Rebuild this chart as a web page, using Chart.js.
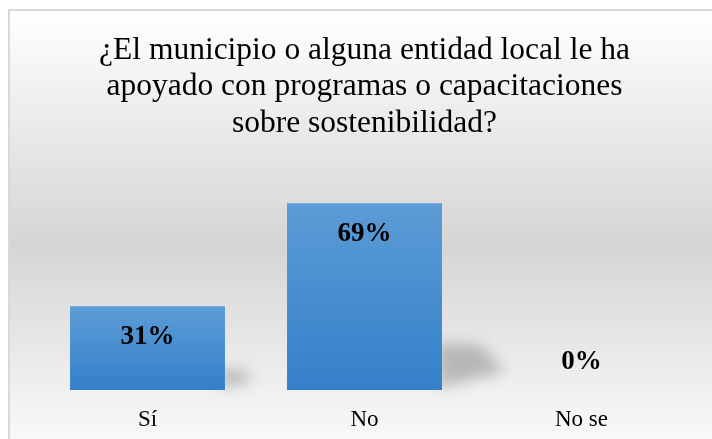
<!DOCTYPE html>
<html>
<head>
<meta charset="utf-8">
<script src="https://cdn.jsdelivr.net/npm/chart.js@4.4.1/dist/chart.umd.min.js"></script>
<style>
  html, body { margin: 0; padding: 0; overflow: hidden; background: #fff; }
  #box {
    position: absolute; left: 8px; top: 9px; width: 720px; height: 440px;
    border-left: 2px solid #d9d9d9; border-top: 2px solid #d9d9d9;
    background: linear-gradient(to bottom, #ffffff 0%, #d5d5d5 53%, #fbfbfb 100%);
  }
  #wrap { position: absolute; left: 0; top: 0; width: 712px; height: 439px; }
</style>
</head>
<body>
<div id="box"></div>
<div id="wrap"><canvas id="chart"></canvas></div>
<script>
const categories = ["Sí", "No", "No se"];
const values = [31, 69, 0];
const titleLines = [
  "¿El municipio o alguna entidad local le ha",
  "apoyado con programas o capacitaciones",
  "sobre sostenibilidad?",
];

const serif = "'Liberation Serif', 'Times New Roman', serif";

// sombra difuminada detrás de cada barra
const barShadow = {
  id: "barShadow",
  beforeDatasetsDraw(chart) {
    const ctx = chart.ctx;
    const meta = chart.getDatasetMeta(0);
    ctx.save();
    ctx.filter = "blur(7px)";
    ctx.fillStyle = "rgba(0,0,0,0.22)";
    meta.data.forEach((bar, i) => {
      if (!values[i]) return;
      const right = bar.x + bar.width / 2;
      const h = bar.base - bar.y;
      ctx.beginPath();
      ctx.moveTo(right - 4, bar.base - h * 0.25);
      ctx.lineTo(right + h * 0.2, bar.base - h * 0.24);
      ctx.lineTo(right + h * 0.34, bar.base - h * 0.1);
      ctx.lineTo(right - 4, bar.base - 2);
      ctx.closePath();
      ctx.fill();
    });
    ctx.restore();
  },
};

// etiquetas de porcentaje dentro de la barra
const barLabels = {
  id: "barLabels",
  afterDatasetsDraw(chart) {
    const ctx = chart.ctx;
    const meta = chart.getDatasetMeta(0);
    ctx.save();
    ctx.font = "bold 27px " + serif;
    ctx.fillStyle = "#000";
    ctx.textAlign = "center";
    ctx.textBaseline = "middle";
    meta.data.forEach((bar, i) => {
      const y = Math.min(bar.y + 31, bar.base - 28);
      ctx.fillText(values[i] + "%", bar.x, y);
    });
    ctx.restore();
  },
};

const chart = new Chart(document.getElementById("chart"), {
  type: "bar",
  data: {
    labels: categories,
    datasets: [
      {
        data: values,
        backgroundColor: (c) => {
          const y = c.chart.scales.y;
          if (!y || !c.chart.chartArea) return "#4a8fd2";
          const top = y.getPixelForValue(values[c.dataIndex]);
          const bottom = y.getPixelForValue(0);
          if (bottom - top < 1) return "#3480c9";
          const g = c.chart.ctx.createLinearGradient(0, top, 0, bottom);
          g.addColorStop(0, "#5c9cd6");
          g.addColorStop(1, "#3480c9");
          return g;
        },
        borderWidth: 0,
        categoryPercentage: 1,
        barPercentage: 0.714,
      },
    ],
  },
  options: {
    responsive: true,
    maintainAspectRatio: false,
    animation: false,
    layout: { padding: { left: 39, right: 22, top: 0, bottom: 0 } },
    plugins: {
      legend: { display: false },
      tooltip: { enabled: false },
      title: {
        display: true,
        text: titleLines,
        color: "#000",
        font: { family: serif, size: 31.5, weight: "normal", lineHeight: 1.16 },
        padding: { top: 32, bottom: 32 },
      },
    },
    scales: {
      y: {
        display: false,
        min: 0,
        max: 80,
      },
      x: {
        grid: { display: false, drawTicks: false },
        border: { display: false },
        ticks: {
          color: "#000",
          padding: 16,
          font: { family: serif, size: 23 },
        },
        afterFit: (scale) => { scale.height = 49; },
      },
    },
  },
  plugins: [barShadow, barLabels],
});
</script>
</body>
</html>
